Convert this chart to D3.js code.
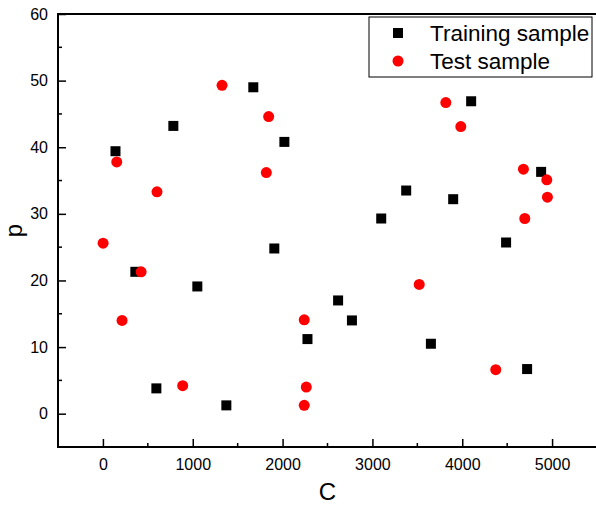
<!DOCTYPE html>
<html>
<head>
<meta charset="utf-8">
<script src="https://cdn.jsdelivr.net/npm/d3@7"></script>
<style>
  body { margin: 0; background: #fff; }
  text { font-family: "Liberation Sans", Arial, sans-serif; fill: #000; }
</style>
</head>
<body>
<div id="graph"></div>
<script>
// data
const trainC = [140, 784, 1674, 2020, 361, 1051, 1908, 595, 1374, 2277, 2618, 2772, 3651, 4722, 3376, 3098, 3899, 4099, 4878, 4488];
const trainP = [39.4, 43.2, 49.0, 40.8, 21.3, 19.1, 24.8, 3.8, 1.25, 11.2, 17.0, 14.0, 10.5, 6.7, 33.5, 29.3, 32.2, 46.9, 36.3, 25.7];
const testC = [154, 602, 2, 425, 213, 888, 1326, 1845, 1819, 2241, 2264, 2241, 3521, 4373, 3817, 3984, 4681, 4941, 4948, 4696];
const testP = [37.8, 33.3, 25.6, 21.3, 14.0, 4.2, 49.3, 44.6, 36.2, 14.1, 4.0, 1.25, 19.4, 6.6, 46.7, 43.1, 36.7, 35.1, 32.5, 29.3];
const xTicks = [0, 1000, 2000, 3000, 4000, 5000];
const yTicks = [0, 10, 20, 30, 40, 50, 60];
const seriesNames = ["Training sample", "Test sample"];

const width = 596, height = 506;
const padding = {left: 58, right: -1, top: 14, bottom: 59};

const graph = d3.select("div#graph")
	.append("svg")
	.attr("width", width)
	.attr("height", height);

const xScale = d3.scaleLinear()
	.range([padding.left, width - padding.right])
	.domain([-500, 5500]);

const yScale = d3.scaleLinear()
	.range([height - padding.bottom, padding.top])
	.domain([-5, 60]);

const x0 = padding.left, x1 = width - padding.right;
const y0 = height - padding.bottom, y1 = padding.top;

// minor ticks (inward)
graph.append("g").selectAll("line")
	.data(d3.range(-500, 5501, 500).filter(v => v % 1000 !== 0 && v > -500 && v < 5500))
	.join("line")
	.attr("x1", d => xScale(d)).attr("x2", d => xScale(d))
	.attr("y1", y0).attr("y2", y0 - 4)
	.attr("stroke", "#000").attr("stroke-width", 1.5);

graph.append("g").selectAll("line")
	.data(d3.range(-5, 60, 10))
	.join("line")
	.attr("x1", x0).attr("x2", x0 + 4)
	.attr("y1", d => yScale(d)).attr("y2", d => yScale(d))
	.attr("stroke", "#000").attr("stroke-width", 1.5);

// x axis
const xAxis = d3.axisBottom(xScale)
	.tickValues(xTicks)
	.tickFormat(d3.format("d"))
	.tickSizeInner(-8)
	.tickSizeOuter(0)
	.tickPadding(12);

graph.append("g")
	.attr("class", "x axis")
	.attr("transform", `translate(0, ${y0})`)
	.call(xAxis)
	.call(g => g.select(".domain").remove())
	.call(g => g.selectAll("line").attr("stroke-width", 1.5))
	.selectAll("text")
	.style("font-size", "16px")
	.attr("fill", "#000");

// y axis
const yAxis = d3.axisLeft(yScale)
	.tickValues(yTicks)
	.tickFormat(d3.format("d"))
	.tickSizeInner(-8)
	.tickSizeOuter(0)
	.tickPadding(10);

graph.append("g")
	.attr("class", "y axis")
	.attr("transform", `translate(${x0}, 0)`)
	.call(yAxis)
	.call(g => g.select(".domain").remove())
	.call(g => g.selectAll("line").attr("stroke-width", 1.5))
	.selectAll("text")
	.style("font-size", "16px")
	.attr("fill", "#000");

// frame
graph.append("rect")
	.attr("x", x0).attr("y", y1)
	.attr("width", x1 - x0).attr("height", y0 - y1)
	.attr("fill", "none")
	.attr("stroke", "#000")
	.attr("stroke-width", 2);

// axis titles
graph.append("text")
	.attr("x", (x0 + x1) / 2)
	.attr("y", 500)
	.attr("text-anchor", "middle")
	.style("font-size", "24px")
	.text("C");

graph.append("text")
	.attr("transform", `translate(22, ${(y0 + y1) / 2}) rotate(-90)`)
	.attr("text-anchor", "middle")
	.style("font-size", "24px")
	.text("p");

// points
const train = trainC.map((c, i) => ({c: c, p: trainP[i]}));
const test = testC.map((c, i) => ({c: c, p: testP[i]}));
const sq = 10;

graph.append("g").selectAll("rect")
	.data(train)
	.join("rect")
	.attr("x", d => xScale(d.c) - sq / 2)
	.attr("y", d => yScale(d.p) - sq / 2)
	.attr("width", sq).attr("height", sq)
	.attr("fill", "#000");

graph.append("g").selectAll("circle")
	.data(test)
	.join("circle")
	.attr("cx", d => xScale(d.c))
	.attr("cy", d => yScale(d.p))
	.attr("r", 5.5)
	.attr("fill", "#ff0000");

// legend
const legend = graph.append("g")
	.attr("transform", "translate(369, 17)");

legend.append("rect")
	.attr("width", 223).attr("height", 60)
	.attr("fill", "#fff")
	.attr("stroke", "#000")
	.attr("stroke-width", 1);

legend.append("rect")
	.attr("x", 24).attr("y", 11)
	.attr("width", sq).attr("height", sq)
	.attr("fill", "#000");

legend.append("circle")
	.attr("cx", 29).attr("cy", 44)
	.attr("r", 5.5)
	.attr("fill", "#ff0000");

legend.selectAll("text.lab")
	.data(seriesNames)
	.join("text")
	.attr("class", "lab")
	.attr("x", 61)
	.attr("y", (d, i) => 24 + 28 * i)
	.style("font-size", "22.5px")
	.text(d => d);
</script>
</body>
</html>
